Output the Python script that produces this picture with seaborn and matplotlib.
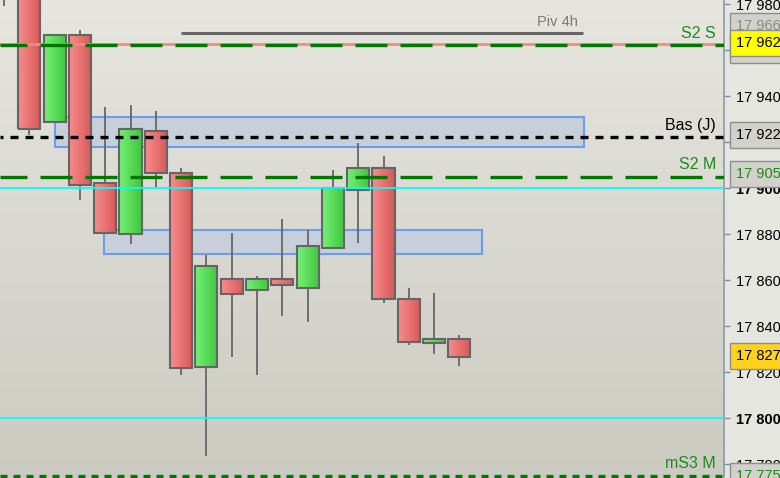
import numpy as np
import pandas as pd
import seaborn as sns
import matplotlib.pyplot as plt
import matplotlib.transforms as mtrans
from matplotlib.colors import LinearSegmentedColormap
from matplotlib.patches import Rectangle
from matplotlib.ticker import FixedLocator, FuncFormatter

sns.set_style("white")
plt.rcParams['font.family'] = ['Liberation Sans', 'DejaVu Sans']
plt.rcParams['lines.scale_dashes'] = False

# candles (one per bar, left to right)
opens = [17995, 17990, 17928.7, 17966.5, 17902.2, 17880.0, 17924.8, 17906.5, 17822.2, 17860.4,
         17855.7, 17860.4, 17856.5, 17873.9, 17899.1, 17908.7, 17851.7, 17832.6, 17834.3]
closes = [17985, 17925.7, 17966.5, 17901.3, 17880.4, 17925.7, 17906.5, 17821.7, 17866.0, 17853.9,
          17860.4, 17857.8, 17874.8, 17900.0, 17908.7, 17851.7, 17833.0, 17834.3, 17826.5]
highs = [17998, 17992, 17966.5, 17968.7, 17935.2, 17936.0, 17933.5, 17908.7, 17870.9, 17880.4,
         17861.7, 17886.5, 17881.7, 17907.8, 17919.6, 17913.9, 17856.5, 17854.3, 17836.0]
lows = [17979, 17923.0, 17928.7, 17894.8, 17880.4, 17875.7, 17900.4, 17818.7, 17783.5, 17826.5,
        17818.7, 17844.3, 17841.7, 17873.5, 17876.1, 17850.0, 17831.7, 17827.8, 17822.6]

# horizontal levels
level_names = ['', 'S2 S', 'Bas (J)', 'S2 M', '', '', 'mS3 M']
level_values = [17962.8, 17962.0, 17922.0, 17905.0, 17900.0, 17800.0, 17775.0]

# pivot segment
piv_name = 'Piv 4h'
piv_value = 17967.4
piv_start, piv_end = 7.0, 22.9

# zones
zone_start = [2.0, 3.95]
zone_end = [22.92, 18.9]
zone_low = [17917.8, 17871.3]
zone_high = [17930.9, 17881.7]

# price axis
tick_values = [17780, 17800, 17820, 17840, 17860, 17880, 17900, 17920, 17940, 17960, 17980]
bold_ticks = [17800, 17900]

# price tags on the axis
tag_texts = ['17 966', '17 962', '17 962', '17 922', '17 905', '17 827', '17 775']
tag_positions = [17970.4, 17960.0, 17963.0, 17923.0, 17906.0, 17827.0, 17774.8]

df = pd.DataFrame({'open': opens, 'close': closes, 'high': highs, 'low': lows})
df['x'] = np.arange(len(df))
df['up'] = df['close'] >= df['open']

fig = plt.figure(figsize=(7.8, 4.78), dpi=100)
fig.patch.set_facecolor('#e6e6e0')
ax = fig.add_axes([0, 0, 724 / 780, 1])

# background gradient
bg = LinearSegmentedColormap.from_list('bg', ['#cbcbc2', '#e6e6df'])
ax.imshow(np.linspace(0, 1, 256).reshape(-1, 1), cmap=bg, origin='lower',
          extent=[0, 1, 0, 1], transform=ax.transAxes, aspect='auto', zorder=0)

# zones
for x0, x1, lo, hi in zip(zone_start, zone_end, zone_low, zone_high):
    ax.add_patch(Rectangle((x0, lo), x1 - x0, hi - lo, facecolor='#c7cfda',
                           edgecolor='#6c9bf2', lw=1.5, zorder=1))

# wicks
ax.vlines(df['x'], df['low'], df['high'], color='#666666', lw=1.3, zorder=2)

# bodies
width = 0.87
bottoms = df[['open', 'close']].min(axis=1)
heights = (df['open'] - df['close']).abs()
shift = mtrans.ScaledTranslation(1.3 / 100, -1.0 / 100, fig.dpi_scale_trans)
shadow = ax.bar(df['x'], heights, width, bottom=bottoms, color='#606060', zorder=2.5)
for p in shadow:
    p.set_transform(p.get_transform() + shift)
bodies = ax.bar(df['x'], heights, width, bottom=bottoms, facecolor='none',
                edgecolor='#656565', lw=1.5, zorder=3.2)
red_cm = LinearSegmentedColormap.from_list('r', ['#fa8c8c', '#d65858'])
green_cm = LinearSegmentedColormap.from_list('g', ['#74f074', '#40c640'])
for p, up in zip(bodies, df['up']):
    x0, y0 = p.get_x(), p.get_y()
    im = ax.imshow(np.linspace(0, 1, 64).reshape(1, -1), cmap=green_cm if up else red_cm,
                   extent=(x0, x0 + p.get_width(), y0, y0 + p.get_height()),
                   aspect='auto', zorder=3, interpolation='bilinear')
    im.set_clip_path(p)

# levels
green = '#1b8a1b'
styles = [
    dict(color='#f28a82', lw=2.0, ls='-'),
    dict(color='#007800', lw=2.4, ls=(5 * 0.72, (32 * 0.72, 13 * 0.72))),
    dict(color='black', lw=2.4, ls=(5 * 0.72, (8 * 0.72, 7 * 0.72))),
    dict(color='#007800', lw=2.4, ls=(5 * 0.72, (32 * 0.72, 13 * 0.72))),
    dict(color='#00ffff', lw=1.3, ls='-'),
    dict(color='#00ffff', lw=1.3, ls='-'),
    dict(color='#007800', lw=2.4, ls=(0, (7 * 0.72, 6 * 0.72))),
]
label_colors = ['', green, 'black', green, '', '', green]
blend = mtrans.blended_transform_factory(ax.transAxes, ax.transData)
for name, val, st, lc in zip(level_names, level_values, styles, label_colors):
    ax.axhline(val, zorder=4, **st)
    if name:
        ax.annotate(name, xy=(716 / 724, val), xycoords=blend, xytext=(0, 3),
                    textcoords='offset points', ha='right', va='bottom',
                    fontsize=11.5, color=lc, zorder=5)

# pivot
ax.hlines(piv_value, piv_start, piv_end, color='#666666', lw=2.2, zorder=4)
ax.annotate(piv_name, xy=(piv_end - 0.2, piv_value), xytext=(0, 3),
            textcoords='offset points', ha='right', va='bottom',
            fontsize=10.5, color='#7a7a7a', zorder=5)

# price axis
ax.set_xlim(-4 / 25.3, 720 / 25.3)
ax.set_ylim(17980 - 474 / 2.3, 17980 + 4 / 2.3)
ax.yaxis.tick_right()
ax.yaxis.set_major_locator(FixedLocator(tick_values))
ax.yaxis.set_major_formatter(FuncFormatter(lambda v, _: f"{int(round(v)):,}".replace(',', ' ')))
ax.tick_params(axis='y', direction='out', length=4.3, width=1, color='#7f8c99',
               pad=4.5, labelsize=10.5, labelcolor='black')
ax.set_xticks([])
for s in ['top', 'left', 'bottom']:
    ax.spines[s].set_visible(False)
ax.spines['right'].set_color('#8e9aa4')
ax.spines['right'].set_linewidth(1.2)

# price tags
tag_styles = [
    dict(fc='#d2d2ca', tc='#8a8a8a'),
    dict(fc='#d2d2ca', tc=green),
    dict(fc='#ffff00', tc='black'),
    dict(fc='#d2d2ca', tc='black'),
    dict(fc='#d2d2ca', tc=green),
    dict(fc='#ffd21e', tc='black'),
    dict(fc='#d2d2ca', tc=green),
]
for txt, pos, st in zip(tag_texts, tag_positions, tag_styles):
    ax.annotate(txt, xy=(1, pos), xycoords=blend, xytext=(9.0, 0),
                textcoords='offset points', ha='left', va='center',
                fontsize=10.5, color=st['tc'], zorder=6, annotation_clip=False,
                bbox=dict(boxstyle='square,pad=0.42', fc=st['fc'], ec='#8a8f94', lw=1))

fig.canvas.draw()
for t in ax.yaxis.get_major_ticks():
    if round(t.get_loc()) in bold_ticks:
        t.label2.set_fontweight('bold')

fig.savefig('out.png', dpi=100)
